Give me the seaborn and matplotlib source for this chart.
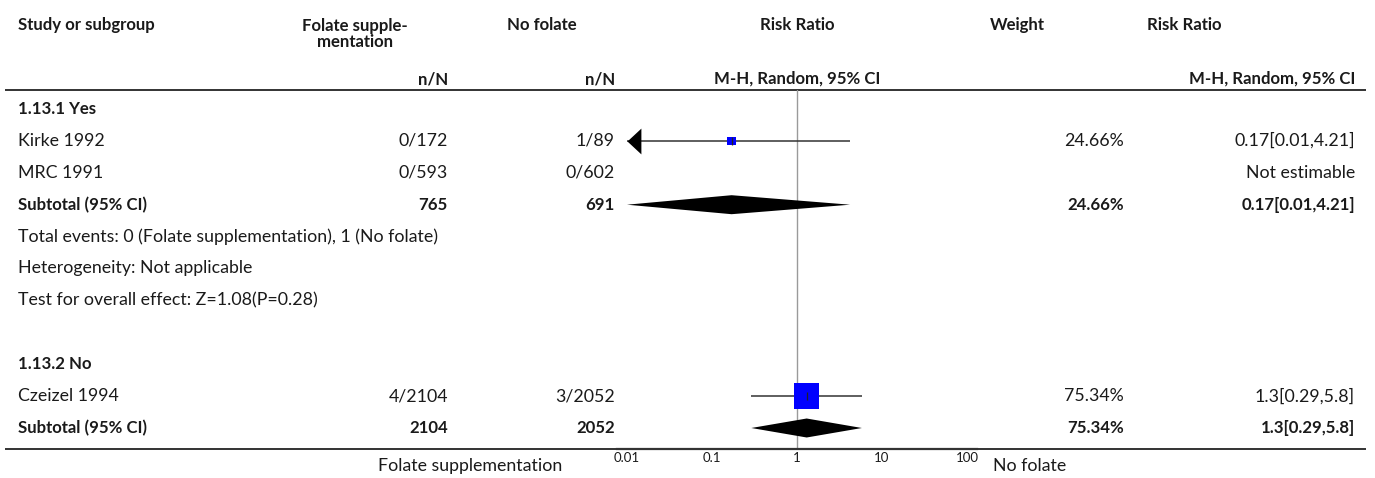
import numpy as np
import pandas as pd
import matplotlib
matplotlib.use("Agg")
import matplotlib.pyplot as plt
import seaborn as sns

# ---------------- data ----------------
group_labels = ["1.13.1 Yes", "1.13.2 No"]
study_names = ["Kirke 1992", "MRC 1991", "Czeizel 1994"]
study_group = [0, 0, 1]
folate_events = [0, 0, 4]
folate_total = [172, 593, 2104]
nofolate_events = [1, 0, 3]
nofolate_total = [89, 602, 2052]
study_rr = [0.17, np.nan, 1.3]
study_lo = [0.01, np.nan, 0.29]
study_hi = [4.21, np.nan, 5.8]
study_weight = [24.66, np.nan, 75.34]

sub_folate_total = [765, 2104]
sub_nofolate_total = [691, 2052]
sub_rr = [0.17, 1.3]
sub_lo = [0.01, 0.29]
sub_hi = [4.21, 5.8]
sub_weight = [24.66, 75.34]
sub_notes = [
    ["Total events: 0 (Folate supplementation), 1 (No folate)",
     "Heterogeneity: Not applicable",
     "Test for overall effect: Z=1.08(P=0.28)"],
    [],
]

axis_ticks = [0.01, 0.1, 1, 10, 100]
axis_tick_labels = ["0.01", "0.1", "1", "10", "100"]
favours_left = "Folate supplementation"
favours_right = "No folate"

# ---------------- layout (pixels) ----------------
W, H = 1375, 478
X_STUDY = 18
X_C1_R, X_C1_C = 448, 355
X_C2_R, X_C2_C = 615, 542
X_RR_C = 797
X_W_R, X_W_C = 1124, 1017
X_RR2_R, X_RR2_C = 1355, 1184
Y_HEAD1, Y_HEAD1B, Y_HEAD2 = 25, 43, 79
Y_TOP_RULE, Y_BOTTOM_RULE = 90, 449
Y_FIRST, ROW_STEP = 109, 31.9
PLOT_L, PLOT_R = 617, 977
PX_PER_DECADE = 85

FS = 12.8
FS_BOLD = 12.1
TXT = "#1a1a1a"
LINE = "#333333"

sns.set_theme(style="white")
plt.rcParams["font.family"] = ["Lato", "DejaVu Sans"]

fig = plt.figure(figsize=(W / 100, H / 100), dpi=100)
ax = fig.add_axes([0, 0, 1, 1])
ax.set_xlim(0, W)
ax.set_ylim(H, 0)
ax.axis("off")

# forest-plot axes, sharing pixel rows with the table
fax = fig.add_axes([PLOT_L / W, (H - Y_BOTTOM_RULE) / H,
                    (PLOT_R - PLOT_L) / W, (Y_BOTTOM_RULE - Y_TOP_RULE) / H])
fax.set_facecolor("none")
fax.set_xscale("log")
fax.set_xlim(10 ** ((PLOT_L - X_RR_C) / PX_PER_DECADE),
             10 ** ((PLOT_R - X_RR_C) / PX_PER_DECADE))
fax.set_ylim(Y_BOTTOM_RULE, Y_TOP_RULE)
for side in ["top", "left", "right"]:
    fax.spines[side].set_visible(False)
fax.spines["bottom"].set_color(LINE)
fax.spines["bottom"].set_linewidth(1.6)
fax.set_yticks([])
fax.set_xticks(axis_ticks)
fax.set_xticklabels(axis_tick_labels)
fax.xaxis.set_minor_locator(matplotlib.ticker.NullLocator())
fax.tick_params(axis="x", direction="in", length=4.5, width=0.9, colors=LINE,
                labelsize=9.5, pad=2.5, labelcolor=TXT)
fax.axvline(1, color="#9a9a9a", lw=1.0, zorder=1)


def txt(x, y, s, ha="left", bold=False, **kw):
    ax.text(x, y, s, ha=ha, va="center", fontsize=FS_BOLD if bold else FS,
            color=TXT, fontweight="bold" if bold else "normal", **kw)


# header
txt(X_STUDY, Y_HEAD1, "Study or subgroup", bold=True)
ax.text(X_C1_C, (Y_HEAD1 + Y_HEAD1B) / 2, "Folate supple-\nmentation", ha="center",
        va="center", fontsize=FS_BOLD, fontweight="bold", color=TXT, linespacing=1.05)
txt(X_C2_C, Y_HEAD1, "No folate", ha="center", bold=True)
txt(X_RR_C, Y_HEAD1, "Risk Ratio", ha="center", bold=True)
txt(X_W_C, Y_HEAD1, "Weight", ha="center", bold=True)
txt(X_RR2_C, Y_HEAD1, "Risk Ratio", ha="center", bold=True)
txt(X_C1_R, Y_HEAD2, "n/N", ha="right", bold=True)
txt(X_C2_R, Y_HEAD2, "n/N", ha="right", bold=True)
txt(X_RR_C, Y_HEAD2, "M-H, Random, 95% CI", ha="center", bold=True)
txt(X_RR2_R, Y_HEAD2, "M-H, Random, 95% CI", ha="right", bold=True)
ax.plot([5, 1366], [Y_TOP_RULE, Y_TOP_RULE], color=LINE, lw=1.4, solid_capstyle="butt")
ax.plot([5, 1366], [Y_BOTTOM_RULE, Y_BOTTOM_RULE], color=LINE, lw=1.4, solid_capstyle="butt")

# body rows
row = 0
point_rows = []
for g, glabel in enumerate(group_labels):
    y = Y_FIRST + ROW_STEP * row
    txt(X_STUDY, y, glabel, bold=True)
    row += 1
    for i, name in enumerate(study_names):
        if study_group[i] != g:
            continue
        y = Y_FIRST + ROW_STEP * row
        txt(X_STUDY, y, name)
        txt(X_C1_R, y, f"{folate_events[i]}/{folate_total[i]}", ha="right")
        txt(X_C2_R, y, f"{nofolate_events[i]}/{nofolate_total[i]}", ha="right")
        if np.isnan(study_rr[i]):
            txt(X_RR2_R, y, "Not estimable", ha="right")
        else:
            txt(X_W_R, y, f"{study_weight[i]:.2f}%", ha="right")
            txt(X_RR2_R, y, f"{study_rr[i]:g}[{study_lo[i]:g},{study_hi[i]:g}]", ha="right")
            point_rows.append(dict(rr=study_rr[i], lo=study_lo[i], hi=study_hi[i],
                                   weight=study_weight[i], y=y))
        row += 1
    # subtotal
    y = Y_FIRST + ROW_STEP * row
    txt(X_STUDY, y, "Subtotal (95% CI)", bold=True)
    txt(X_C1_R, y, f"{sub_folate_total[g]}", ha="right", bold=True)
    txt(X_C2_R, y, f"{sub_nofolate_total[g]}", ha="right", bold=True)
    txt(X_W_R, y, f"{sub_weight[g]:.2f}%", ha="right", bold=True)
    txt(X_RR2_R, y, f"{sub_rr[g]:g}[{sub_lo[g]:g},{sub_hi[g]:g}]", ha="right", bold=True)
    fax.fill([sub_lo[g], sub_rr[g], sub_hi[g], sub_rr[g]],
             [y, y - 9.5, y, y + 9.5], color="black", lw=0, zorder=3)
    row += 1
    for note in sub_notes[g]:
        y = Y_FIRST + ROW_STEP * row
        txt(X_STUDY, y, note)
        row += 1
    if g < len(group_labels) - 1:
        row += 1

# study estimates and confidence intervals
pts = pd.DataFrame(point_rows)
axis_min = axis_ticks[0]
for _, p in pts.iterrows():
    fax.hlines(p["y"], p["lo"], p["hi"], color=LINE, lw=1.1, zorder=2)
    if p["lo"] <= axis_min:
        fax.plot(p["lo"], p["y"], marker=[(0, 0), (14, 13), (14, -13)],
                 ms=20, color="black", mew=0, zorder=3, clip_on=False)
sns.scatterplot(data=pts, x="rr", y="y", size="weight", sizes=(36, 330),
                size_norm=(pts["weight"].min(), pts["weight"].max()),
                marker="s", color="#0000ff", linewidth=0, legend=False,
                ax=fax, zorder=4)
fax.plot(pts["rr"], pts["y"], ls="none", marker="|", ms=6, mew=0.9,
         color="#222222", zorder=5)
fax.set_xlabel("")
fax.set_ylabel("")

# favours labels
ax.text(562, 466, favours_left, ha="right", va="center", fontsize=FS, color=TXT)
ax.text(993, 466, favours_right, ha="left", va="center", fontsize=FS, color=TXT)

fig.savefig("out.png", dpi=100)
